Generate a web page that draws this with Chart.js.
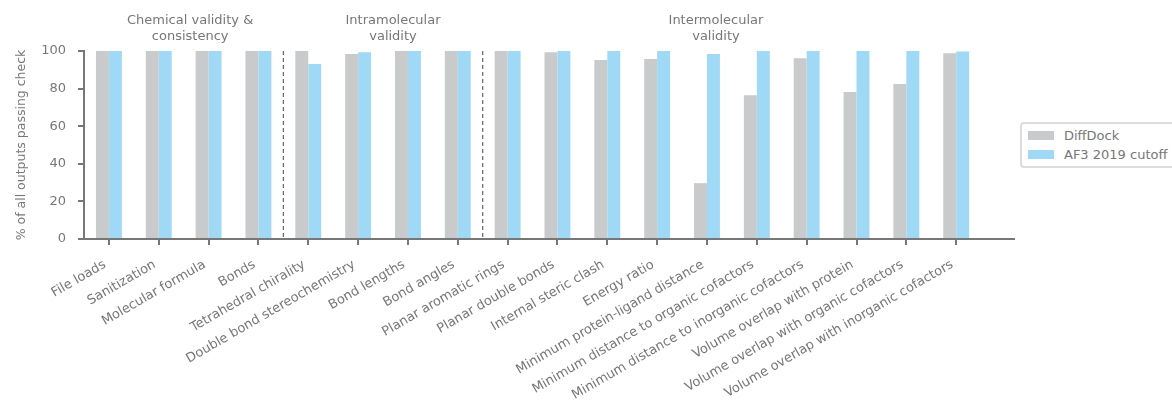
<!DOCTYPE html>
<html>
<head>
<meta charset="utf-8">
<script src="https://cdn.jsdelivr.net/npm/chart.js@4.4.1/dist/chart.umd.min.js"></script>
<style>
  html, body { margin: 0; padding: 0; background: #fff; overflow: hidden; }
  #wrap { position: relative; width: 1172px; height: 402px; }
  #legend {
    position: absolute; left: 1020px; top: 122px; width: 170px; height: 42px;
    border: 2px solid #dcdcdc; border-radius: 4px; background: #fff;
    font-family: "DejaVu Sans", sans-serif; font-size: 13px; color: #777;
  }
  #legend .item { position: absolute; left: 6px; height: 16px; line-height: 16px; }
  #legend .sw { display: inline-block; width: 26px; height: 9px; vertical-align: middle; margin-right: 10px; margin-top: -2px; }
</style>
</head>
<body>
<div id="wrap">
  <canvas id="myChart" width="1172" height="402"></canvas>
  <div id="legend"></div>
</div>
<script>
const categories = [
  'File loads', 'Sanitization', 'Molecular formula', 'Bonds',
  'Tetrahedral chirality', 'Double bond stereochemistry', 'Bond lengths', 'Bond angles',
  'Planar aromatic rings', 'Planar double bonds', 'Internal steric clash', 'Energy ratio',
  'Minimum protein-ligand distance', 'Minimum distance to organic cofactors',
  'Minimum distance to inorganic cofactors', 'Volume overlap with protein',
  'Volume overlap with organic cofactors', 'Volume overlap with inorganic cofactors'
];
const diffDock = [100, 100, 100, 100, 100, 98.4, 100, 100, 100, 99.4, 95.2, 95.7, 29.7, 76.5, 96.2, 78.2, 82.4, 98.8];
const af3Cutoff = [100, 100, 100, 100, 93.1, 99.4, 100, 100, 100, 100, 100, 100, 98.4, 100, 100, 100, 100, 99.7];
const yTicks = [0, 20, 40, 60, 80, 100];
const seriesNames = ['DiffDock', 'AF3 2019 cutoff'];
const groupLabels = [['Chemical validity &', 'consistency'], ['Intramolecular', 'validity'], ['Intermolecular', 'validity']];
const groupDividers = [3.5, 7.5];

const grey = '#c9cacc';
const blue = '#a0d9f5';
const axisColor = '#777';
const font = '"DejaVu Sans", sans-serif';

const groupPlugin = {
  id: 'groups',
  afterDatasetsDraw(chart, args, opts) {
    const ctx = chart.ctx;
    const x = chart.scales.x;
    const area = chart.chartArea;
    ctx.save();
    ctx.strokeStyle = '#666';
    ctx.lineWidth = 1.2;
    ctx.setLineDash([4, 3]);
    groupDividers.forEach(v => {
      const px = x.getPixelForValue(v);
      ctx.beginPath();
      ctx.moveTo(px, area.top);
      ctx.lineTo(px, area.bottom);
      ctx.stroke();
    });
    ctx.setLineDash([]);
    ctx.fillStyle = axisColor;
    ctx.font = '13px ' + font;
    ctx.textAlign = 'center';
    ctx.textBaseline = 'middle';
    groupLabels.forEach((lines, i) => {
      const px = x.getPixelForValue(opts.centers[i]);
      lines.forEach((t, j) => ctx.fillText(t, px, 21 + j * 16));
    });
    ctx.restore();
  }
};

function plotChart() {
  const ctx = document.getElementById('myChart');
  new Chart(ctx, {
    type: 'bar',
    data: {
      datasets: [
        { label: seriesNames[0], data: diffDock.map((v, i) => ({ x: i, y: v })), backgroundColor: grey },
        { label: seriesNames[1], data: af3Cutoff.map((v, i) => ({ x: i, y: v })), backgroundColor: blue }
      ]
    },
    options: {
      responsive: false,
      animation: false,
      categoryPercentage: 0.52,
      barPercentage: 1.0,
      layout: { padding: { top: 51, right: 158, left: 0, bottom: 0 } },
      plugins: {
        legend: { display: false },
        tooltip: { enabled: false },
        groups: { centers: [1.63, 5.7, 12.18] }
      },
      scales: {
        x: {
          type: 'linear',
          offset: false,
          min: -0.5,
          max: 18.16,
          afterBuildTicks: axis => { axis.ticks = categories.map((_, i) => ({ value: i })); },
          afterFit: scale => { scale.height = 163; },
          border: { color: axisColor, width: 2 },
          grid: { display: true, offset: false, drawOnChartArea: false, drawTicks: true, tickLength: 6, color: axisColor, lineWidth: 2 },
          ticks: {
            autoSkip: false,
            maxRotation: 30,
            minRotation: 30,
            padding: 12,
            labelOffset: -4,
            color: axisColor,
            font: { family: font, size: 13 },
            callback: v => categories[v]
          }
        },
        y: {
          min: 0,
          max: 100,
          afterBuildTicks: axis => { axis.ticks = yTicks.map(v => ({ value: v })); },
          afterFit: scale => { scale.width = 84; },
          border: { color: axisColor, width: 2 },
          grid: { display: true, drawOnChartArea: false, drawTicks: true, tickLength: 6, color: axisColor, lineWidth: 2 },
          ticks: { padding: 12, color: axisColor, font: { family: font, size: 13 } },
          title: {
            display: true,
            text: '% of all outputs passing check',
            color: axisColor,
            font: { family: font, size: 12.5 },
            padding: { top: 14, bottom: 0 }
          }
        }
      }
    },
    plugins: [groupPlugin]
  });

  const legend = document.getElementById('legend');
  [grey, blue].forEach((c, i) => {
    const item = document.createElement('div');
    item.className = 'item';
    item.style.top = (4 + i * 19) + 'px';
    item.innerHTML = '<span class="sw" style="background:' + c + '"></span>' + seriesNames[i];
    legend.appendChild(item);
  });
}

plotChart();
</script>
</body>
</html>
